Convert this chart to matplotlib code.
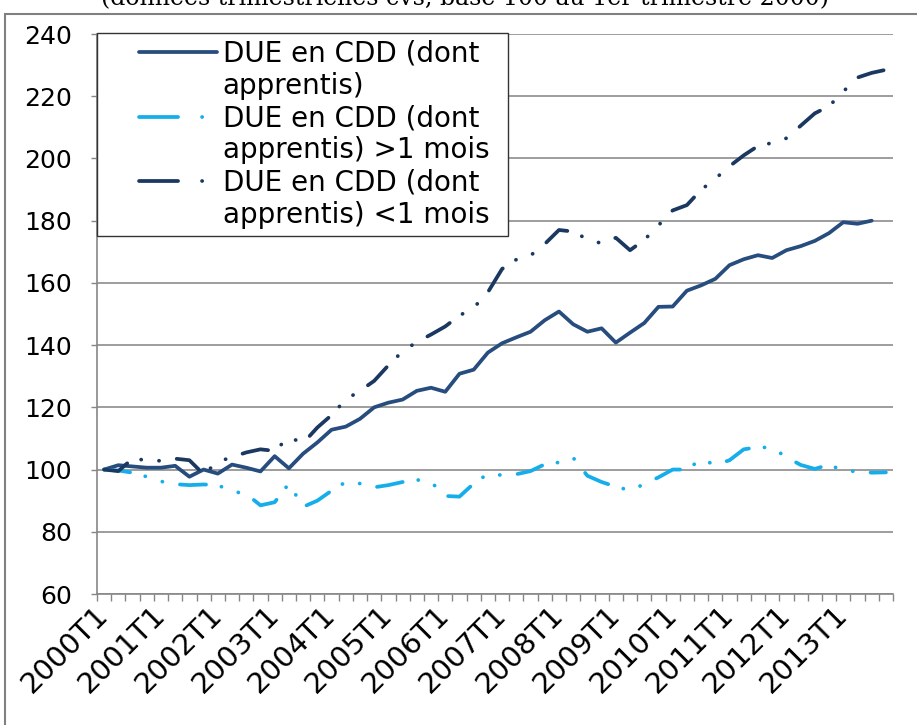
import matplotlib.pyplot as plt
from matplotlib.lines import Line2D
from matplotlib.patches import Rectangle
import numpy as np

plt.rcParams['font.family'] = ['DejaVu Sans']
plt.rcParams['lines.scale_dashes'] = False

# quarterly data, base 100 in 2000T1
quarters = [f"{y}T{q}" for y in range(2000, 2014) for q in range(1, 5)]

due_cdd = [100, 101.4, 101, 100.6, 100.6, 101.2, 97.7, 100, 98.7, 101.6,
           100.6, 99.4, 104.3, 100.4, 105.1, 108.7, 112.8, 113.8, 116.3, 120,
           121.5, 122.5, 125.3, 126.3, 125, 130.8, 132.1, 137.6, 140.6, 142.5,
           144.3, 148, 150.8, 146.7, 144.3, 145.4, 140.8, 144, 147.1, 152.3,
           152.4, 157.5, 159.2, 161.3, 165.7, 167.6, 168.9, 168, 170.5, 171.8,
           173.5, 176, 179.5, 179, 180, np.nan]

due_cdd_plus1 = [100, 99.7, 99, 97.7, 96.2, 95.3, 95, 95.2, 95, 93,
                 92.2, 88.5, 89.5, 95.5, 88, 90, 93.2, 96, 95.5, 94.3,
                 95, 96, 96.7, 96, 91.5, 91.3, 95.5, 98.6, 98.2, 98.5,
                 99.5, 101.7, 102.3, 103.8, 98, 96, 94.5, 93.3, 95.3, 97.5,
                 100, 100, 103.3, 101.5, 103, 106.5, 107.2, 107, 104, 101.5,
                 100.2, 101.6, 99.6, 99.4, 99, 99.1]

due_cdd_moins1 = [100, 99.5, 103.5, 103, 102.8, 103.5, 103, 98.5, 102.5, 104,
                  105.5, 106.5, 106, 110.4, 108.5, 113.5, 117.5, 122.5, 125.3, 128.5,
                  133.5, 138, 141, 143.4, 146, 149.5, 152, 157, 164.5, 167.5,
                  168.8, 172.5, 177, 176.5, 174, 172.7, 174.5, 170.5, 173.8, 178.5,
                  183.3, 185, 189.9, 193.5, 197.5, 201, 204, 205, 206.5, 210.5,
                  214.5, 216.8, 221.5, 226, 227.5, 228.5]

labels = ["DUE en CDD (dont\napprentis)",
          "DUE en CDD (dont\napprentis) >1 mois",
          "DUE en CDD (dont\napprentis) <1 mois"]

c_total = '#274C7E'
c_plus = '#16AEEA'
c_moins = '#1A3860'
dashdot = (0, (18.8, 11.3, 0.1, 12.8, 0.1, 12.8))
lw = 2.7

fig = plt.figure(figsize=(9.17, 7.25), dpi=100)
ax = fig.add_axes([97 / 917, 1 - 594 / 725, (893 - 97) / 917, (594 - 34) / 725])

x = np.arange(len(quarters))
ax.plot(x, due_cdd, color=c_total, lw=lw, solid_capstyle='round',
        solid_joinstyle='round')
ax.plot(x, due_cdd_plus1, color=c_plus, lw=lw, linestyle=dashdot,
        dash_capstyle='round', dash_joinstyle='round')
ax.plot(x, due_cdd_moins1, color=c_moins, lw=lw, linestyle=dashdot,
        dash_capstyle='round', dash_joinstyle='round')

ax.set_xlim(-0.5, len(quarters) - 0.5)
ax.set_ylim(60, 240)
ax.set_yticks(np.arange(60, 241, 20))
ax.set_xticks(x[::4])
ax.set_xticklabels(quarters[::4], rotation=45, ha='right', va='center',
                   rotation_mode='anchor')
ax.set_xticks(np.arange(-0.5, len(quarters), 1), minor=True)
ax.tick_params(axis='x', which='major', length=0, pad=12, labelsize=21)
ax.tick_params(axis='x', which='minor', length=5, color='#868686', width=1)
ax.tick_params(axis='y', length=4, color='#868686', width=1, pad=14, labelsize=18)

ax.yaxis.grid(True, color='#8c8c8c', linewidth=1.2)
ax.set_axisbelow(True)
for side in ['top', 'right']:
    ax.spines[side].set_visible(False)
for side in ['left', 'bottom']:
    ax.spines[side].set_color('#868686')
    ax.spines[side].set_linewidth(1.2)

# legend: handle on the first line of each label, drawn on the right part of the slot
pt = 0.72  # px -> pt at 100 dpi
blank = Line2D([], [], color='none')
h1 = Line2D([], [], color=c_total, lw=lw, solid_capstyle='round',
            linestyle=(78 * pt, (78 * pt, 35 * pt)), dash_capstyle='round')
dd_handle = (78.1 * pt, (39 * pt, 24 * pt, 0.1, 50 * pt))
h2 = Line2D([], [], color=c_plus, lw=lw, linestyle=dd_handle, dash_capstyle='round')
h3 = Line2D([], [], color=c_moins, lw=lw, linestyle=dd_handle, dash_capstyle='round')
handles, texts = [], []
for h, lab in zip([h1, h2, h3], labels):
    first, second = lab.split('\n')
    handles += [h, blank]
    texts += [first, second]
leg = fig.legend(handles, texts, loc='upper left',
                 bbox_to_anchor=(97 / 917, 1 - 33 / 725, (508 - 97) / 917, 0),
                 mode='expand', borderaxespad=0, fontsize=20, labelspacing=0.15,
                 handlelength=4.08, handletextpad=0.2, borderpad=0.25,
                 fancybox=False, framealpha=1, edgecolor='#333333')
leg.get_frame().set_linewidth(1.0)

# chart frame and clipped subtitle at the top
fig.add_artist(Rectangle((5 / 917, -0.02), 1.0, 1.02 - 14 / 725,
                         transform=fig.transFigure, fill=False,
                         edgecolor='#808080', lw=1.5))
fig.text(0.507, 1 - 4 / 725,
         "(données trimestrielles cvs, base 100 au 1er trimestre 2000)",
         ha='center', va='baseline', fontsize=17, family='DejaVu Serif')

fig.savefig('out.png', dpi=100)
